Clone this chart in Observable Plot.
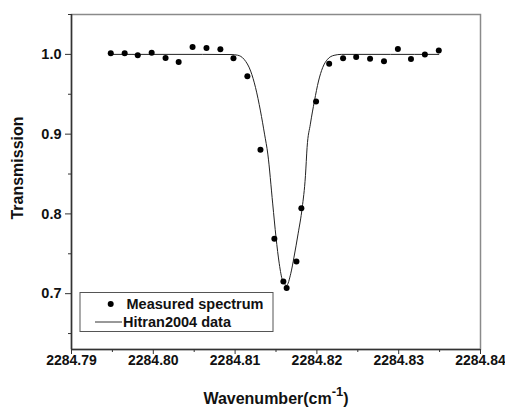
<!DOCTYPE html>
<html>
<head>
<meta charset="utf-8">
<script src="https://cdn.jsdelivr.net/npm/d3@7"></script>
<script src="https://cdn.jsdelivr.net/npm/@observablehq/plot@0.6"></script>
<style>
  html, body { margin: 0; padding: 0; background: white; }
</style>
</head>
<body>
<div id="chart"></div>
<script>
// Measured spectrum (dots)
const measuredX = [2284.7948, 2284.7965, 2284.7981, 2284.7998, 2284.8015, 2284.8031, 2284.8048, 2284.8065, 2284.8082, 2284.8098, 2284.8115, 2284.8131, 2284.8148, 2284.8159, 2284.8163, 2284.8175, 2284.8181, 2284.8199, 2284.8215, 2284.8232, 2284.8248, 2284.8265, 2284.8282, 2284.8299, 2284.8315, 2284.8332, 2284.8349];
const measuredY = [1.0013, 1.0013, 0.9988, 1.0020, 0.9954, 0.9904, 1.0091, 1.0079, 1.0063, 0.9950, 0.9725, 0.8804, 0.7688, 0.7154, 0.7070, 0.7404, 0.8070, 0.9408, 0.9883, 0.9950, 0.9966, 0.9945, 0.9913, 1.0066, 0.9941, 1.0000, 1.0050];

// Hitran2004 data (line)
const hitranX = [2284.7948, 2284.8000, 2284.8060, 2284.8095, 2284.8103, 2284.8111, 2284.8119, 2284.8125, 2284.8131, 2284.8136, 2284.8140, 2284.8146, 2284.8150, 2284.8154, 2284.8158, 2284.8163, 2284.8168, 2284.8172, 2284.8177, 2284.8182, 2284.8186, 2284.8188, 2284.8192, 2284.8197, 2284.8202, 2284.8207, 2284.8213, 2284.8221, 2284.8230, 2284.8290, 2284.8349];
const hitranY = [1.0000, 1.0000, 1.0000, 0.9998, 0.9990, 0.9938, 0.9791, 0.9583, 0.9291, 0.9000, 0.8750, 0.8125, 0.7708, 0.7375, 0.7166, 0.7104, 0.7250, 0.7458, 0.7750, 0.8075, 0.8479, 0.8833, 0.9125, 0.9416, 0.9666, 0.9833, 0.9938, 0.9988, 1.0000, 1.0000, 1.0000];

const xDomain = [2284.79, 2284.84];
const yDomain = [0.63, 1.05];
const xTicks = [2284.79, 2284.80, 2284.81, 2284.82, 2284.83, 2284.84];
const xMinor = [2284.795, 2284.805, 2284.815, 2284.825, 2284.835];
const yTicks = [0.7, 0.8, 0.9, 1.0];
const yMinor = [0.65, 0.75, 0.85, 0.95, 1.05];

const legendLabels = ["Measured spectrum", "Hitran2004 data"];
const xTitle = "Wavenumber(cm";
const xTitleSup = "-1";
const yTitle = "Transmission";

const measured = measuredX.map((x, i) => ({x, y: measuredY[i]}));
const hitran = hitranX.map((x, i) => ({x, y: hitranY[i]}));

const chart = Plot.plot({
  width: 505,
  height: 410,
  marginLeft: 71,
  marginRight: 25,
  marginTop: 14,
  marginBottom: 61,
  x: {domain: xDomain},
  y: {domain: yDomain},
  style: {
    fontFamily: "'Liberation Sans', Arial, sans-serif",
    fontSize: "14.5px",
    fontWeight: "bold",
    background: "white",
    color: "#111",
    overflow: "visible"
  },
  marks: [
    Plot.frame({stroke: "#8a8a8a", strokeWidth: 1.5}),
    Plot.ruleX([xDomain[0]], {stroke: "#333", strokeWidth: 1.5}),
    Plot.ruleY([yDomain[0]], {stroke: "#333", strokeWidth: 1.5}),
    Plot.axisY({ticks: yTicks, tickFormat: d3.format(".1f"), tickSize: 6, tickPadding: 4, label: null, stroke: "#333"}),
    Plot.axisY({ticks: yMinor, tickFormat: () => "", tickSize: 3, label: null, stroke: "#333"}),
    Plot.axisX({ticks: xTicks, tickFormat: d3.format(".2f"), tickSize: 5, tickPadding: 1, label: null, stroke: "#333", fontSize: 14}),
    Plot.axisX({ticks: xMinor, tickFormat: () => "", tickSize: 3, label: null, stroke: "#333"}),
    Plot.line(hitran, {x: "x", y: "y", curve: "monotone-x", stroke: "#222", strokeWidth: 1}),
    Plot.dot(measured, {x: "x", y: "y", r: 3, fill: "black", stroke: "none"})
  ]
});

document.getElementById("chart").appendChild(chart);

const svg = d3.select(chart);
const font = "'Liberation Sans', Arial, sans-serif";

// keep the last x tick label inside the window
const xLabels = svg.selectAll("g[aria-label='x-axis tick label'] text");
if (xLabels.size()) {
  const nodes = xLabels.nodes();
  d3.select(nodes[nodes.length - 1]).attr("dx", -2.5);
}

// Y title
svg.append("text")
  .attr("transform", "translate(23,168) rotate(-90)")
  .attr("text-anchor", "middle")
  .attr("font-family", font)
  .attr("font-size", 16)
  .attr("font-weight", "bold")
  .attr("fill", "#111")
  .text(yTitle);

// X title with superscript
const xt = svg.append("text")
  .attr("x", 276)
  .attr("y", 404)
  .attr("text-anchor", "middle")
  .attr("font-family", font)
  .attr("font-size", 16)
  .attr("font-weight", "bold")
  .attr("fill", "#111");
xt.append("tspan").text(xTitle);
xt.append("tspan").attr("dy", -8).attr("font-size", 13).text(xTitleSup);
xt.append("tspan").attr("dy", 8).text(")");

// Legend
const lg = svg.append("g").attr("text-anchor", "start");
lg.append("rect")
  .attr("x", 80).attr("y", 292.5).attr("width", 193).attr("height", 39)
  .attr("fill", "white").attr("stroke", "#555").attr("stroke-width", 1);
lg.append("circle").attr("cx", 110.7).attr("cy", 304).attr("r", 3).attr("fill", "black");
lg.append("text")
  .attr("x", 126.5).attr("y", 309)
  .attr("text-anchor", "start")
  .attr("font-family", font).attr("font-size", 14.5).attr("font-weight", "bold").attr("fill", "#111")
  .text(legendLabels[0]);
lg.append("line")
  .attr("x1", 95).attr("x2", 122).attr("y1", 322).attr("y2", 322)
  .attr("stroke", "#333").attr("stroke-width", 1);
lg.append("text")
  .attr("x", 123).attr("y", 327)
  .attr("text-anchor", "start")
  .attr("font-family", font).attr("font-size", 14.5).attr("font-weight", "bold").attr("fill", "#111")
  .text(legendLabels[1]);
</script>
</body>
</html>
